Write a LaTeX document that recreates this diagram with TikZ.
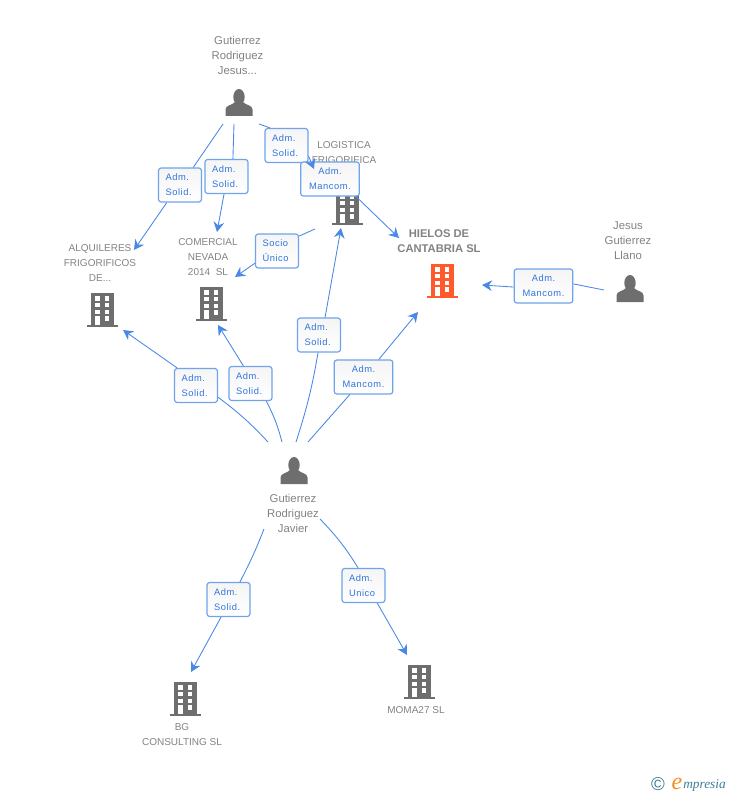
\documentclass[tikz,border=0pt]{standalone}
\usepackage{fontspec}
\setmainfont{Liberation Sans}
\newfontfamily\lblfont[LetterSpace=6]{Liberation Sans}
\newfontfamily\logofont{Liberation Serif}
\usetikzlibrary{arrows.meta}
\definecolor{icongray}{HTML}{6E6E6E}
\definecolor{txtgray}{HTML}{828282}
\definecolor{linkblue}{HTML}{4A88E6}
\definecolor{boxblue}{HTML}{6FA3EA}
\definecolor{lblblue}{HTML}{2F74DC}
\definecolor{hielosred}{HTML}{FF5A2B}
\definecolor{logoteal}{HTML}{3E7C96}
\definecolor{logoorange}{HTML}{F58A1F}
\tikzset{
	txt/.style={font=\fontsize{7.5}{11.25}\selectfont,text=txtgray,align=center,inner sep=0pt},
	ptxt/.style={txt,font=\fontsize{8.5}{11.25}\selectfont},
	lbl/.style={draw=boxblue,line width=.9pt,rounded corners=2pt,top color=black!4,bottom color=white,
		font=\lblfont\fontsize{7}{11.25}\selectfont,text=lblblue,inner sep=0pt,minimum height=25.5pt},
	small/.style={lbl,align=left,inner xsep=5.25pt,text width=21.75pt},
	wide/.style={lbl,align=center,minimum width=44pt},
	link/.style={linkblue,line width=.65pt},
	tip/.style={link,-{Stealth[length=7.5pt,width=8pt,inset=2.5pt]}},
	pics/building/.style={code={
		\fill[#1] (-11.5,-16.5) rectangle (11.5,15.5);
		\fill[#1] (-15.5,15.5) rectangle (15.5,17.5);
		\foreach \wx in {-7.2,2.5}{
			\foreach \wy in {-12.8,-6.2,.5,7.2}{
				\fill[white] (\wx,\wy) rectangle ++(4.8,4.6);
			}
		}
		\fill[white] (-7.2,7.2) rectangle (-2.4,15.5);
	}},
	pics/person/.style={code={
		\fill[icongray] (0,-6) ellipse (5.7 and 8);
		\fill[icongray] (-13.5,13) -- (-13.5,6.5) .. controls (-13.5,2) and (-7,2.5) .. (-4,-1)
			-- (4,-1) .. controls (7,2.5) and (13.5,2) .. (13.5,6.5) -- (13.5,13) -- cycle;
	}}
}
\begin{document}
\begin{tikzpicture}[x=.75pt,y=-.75pt,line join=round]
	\useasboundingbox (0,0) rectangle (728,795);
	% icons
	\foreach \x/\y in {239/103,630/289,294/471}{
		\pic at (\x,\y) {person};
	}
	\foreach \x/\y/\col in {102/309/icongray,211/303/icongray,347/207/icongray,185/698/icongray,419/681/icongray,442/280/hielosred}{
		\pic at (\x,\y) {building=\col};
	}
	% texts
	\node[ptxt] (jesus) at (237.5,55) {Gutierrez\\Rodriguez\\Jesus...};
	\node[txt] (logistica) at (344,152.5) {LOGISTICA\\FRIGORIFICA};
	\node[txt] (alquileres) at (100,263) {ALQUILERES\\FRIGORIFICOS\\DE...};
	\node[txt] (comercial) at (208,257) {COMERCIAL\\NEVADA\\2014\ \ SL};
	\node[txt,font=\bfseries\fontsize{8.4}{11.25}\selectfont] (hielos) at (439,241.5) {HIELOS DE\\CANTABRIA SL};
	\node[ptxt] (llano) at (628,241) {Jesus\\Gutierrez\\Llano};
	\node[ptxt] (javier) at (293,513) {Gutierrez\\Rodriguez\\Javier};
	\node[txt] (bg) at (182,734.5) {BG\\CONSULTING SL};
	\node[txt] (moma) at (416,710) {MOMA27 SL};
	% free ends
	\coordinate (jA) at (223,124);
	\coordinate (jB) at (234,124);
	\coordinate (jC) at (259,124);
	\coordinate (tAlqA) at (134,250);
	\coordinate (tComA) at (217,232);
	\coordinate (tLog) at (314,169);
	\coordinate (tComB) at (235,277);
	\coordinate (sLog) at (315,229);
	\coordinate (tHieA) at (399,238);
	\coordinate (sLla) at (604,290);
	\coordinate (tHieB) at (482,285);
	\coordinate (pA) at (268,442);
	\coordinate (pB) at (282,442);
	\coordinate (pC) at (296,442);
	\coordinate (pD) at (308,442);
	\coordinate (pE) at (264,529);
	\coordinate (pF) at (320,519);
	\coordinate (tAlqB) at (123,330);
	\coordinate (tComC) at (218,325);
	\coordinate (tLogB) at (341,228);
	\coordinate (tHieC) at (418,312);
	\coordinate (tBg) at (191,672);
	\coordinate (tMoma) at (407,655);
	% relation boxes
	\node[small] (l1) at (180,185) {Adm.\\Solid.};
	\node[small] (l2) at (226.5,176.5) {Adm.\\Solid.};
	\node[small] (l3) at (286.5,145.5) {Adm.\\Solid.};
	\node[wide] (l4) at (330,179) {Adm.\\Mancom.};
	\node[small] (l5) at (277,251) {Socio\\Único};
	\node[wide] (l6) at (543.5,286) {Adm.\\Mancom.};
	\node[small] (l7) at (196,385.5) {Adm.\\Solid.};
	\node[small] (l8) at (250.5,383.5) {Adm.\\Solid.};
	\node[small] (l9) at (319,335) {Adm.\\Solid.};
	\node[wide] (l10) at (363.5,377) {Adm.\\Mancom.};
	\node[small] (l11) at (228.5,599.5) {Adm.\\Solid.};
	\node[small] (l12) at (363.5,585.5) {Adm.\\Unico};
	% connectors
	\draw[link] (jA)--(l1.53);
	\draw[tip] (l1.233)--(tAlqA);
	\draw[link] (jB)--(l2.70);
	\draw[tip] (l2.262)--(tComA);
	\draw[link] (jC)--(l3.133);
	\draw[tip] (l3.-26)--(tLog);
	\draw[tip] (l4.-34)--(tHieA);
	\draw[link] (sLog)--(l5.34);
	\draw[tip] (l5.209)--(tComB);
	\draw[link] (sLla)--(l6.4);
	\draw[tip] (l6.182)--(tHieB);
	\draw[link] (pA) to[bend right=5] (l7.-28);
	\draw[tip] (l7.137)--(tAlqB);
	\draw[link] (pB) to[bend right=6] (l8.-48);
	\draw[tip] (l8.112)--(tComC);
	\draw[link] (pC) to[bend right=4] (l9.267);
	\draw[tip] (l9.71)--(tLogB);
	\draw[link] (pD)--(l10.232);
	\draw[tip] (l10.49)--(tHieC);
	\draw[link] (pE) to[bend left=3] (l11.57);
	\draw[tip] (l11.247)--(tBg);
	\draw[link] (pF) to[bend left=6] (l12.107);
	\draw[tip] (l12.-52)--(tMoma);
	% logo
	\node[inner sep=0pt,text=logoteal,font=\fontsize{14}{14}\selectfont] (copyr) at (658,784) {©};
	\node[inner sep=0pt,text=logoorange,font=\logofont\itshape\fontsize{18}{18}\selectfont] (logoe) at (677,784) {e};
	\node[inner sep=0pt,anchor=base west,text=logoteal,font=\logofont\itshape\fontsize{10}{10}\selectfont] (logo) at (683,788) {mpresia};
\end{tikzpicture}
\end{document}
